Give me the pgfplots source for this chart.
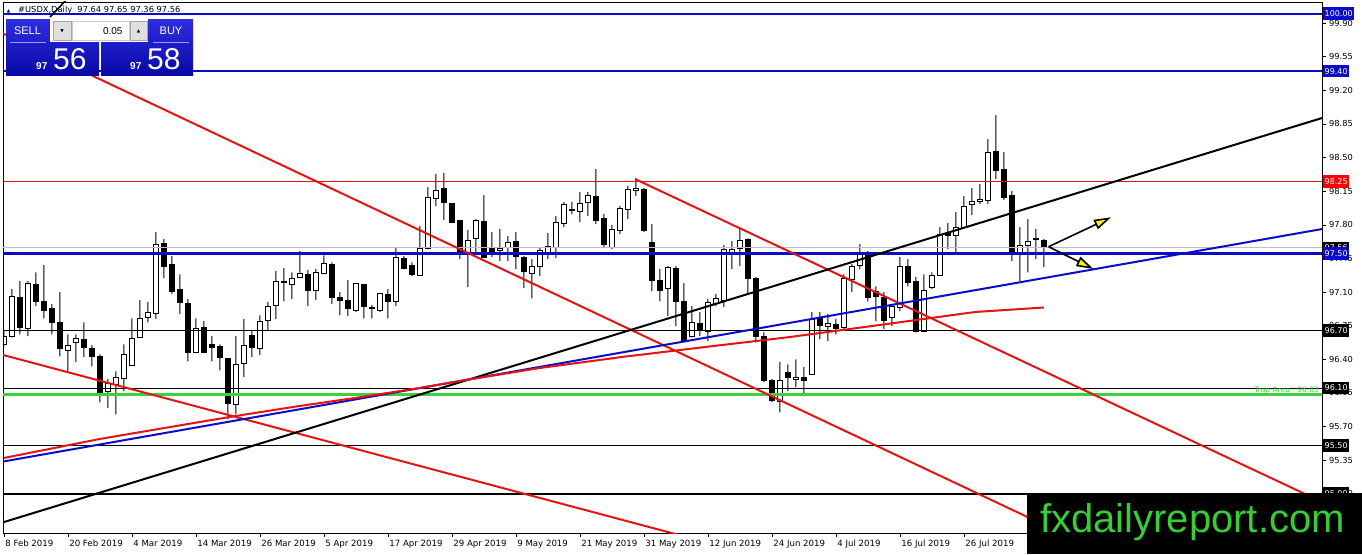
\documentclass[border=0pt]{standalone}
\usepackage{fontspec}
\setmainfont{DejaVu Sans}
\newfontfamily\wmfont{Liberation Sans}
\usepackage{pgfplots}
\pgfplotsset{compat=1.18}
\usepackage{pgfplotstable}
\usetikzlibrary{arrows.meta}

\definecolor{mtblue}{RGB}{12,12,200}
\definecolor{mtred}{RGB}{228,20,20}
\definecolor{mtgreen}{RGB}{60,210,60}
\definecolor{wmgreen}{RGB}{55,205,55}
\definecolor{panelhi}{RGB}{45,45,225}
\definecolor{panello}{RGB}{8,8,165}

% daily candles, USDX: index, open, high, low, close
\pgfplotstableread{
i o h l c
0 96.556 96.692 96.535 96.640
1 96.640 97.129 96.629 97.056
2 97.046 97.213 96.660 96.733
3 96.723 97.213 96.640 97.192
4 97.181 97.306 96.952 97.004
5 97.004 97.379 96.827 96.910
6 96.931 96.973 96.660 96.785
7 96.785 97.098 96.431 96.515
8 96.494 96.660 96.275 96.546
9 96.577 96.660 96.369 96.619
10 96.608 96.785 96.421 96.525
11 96.515 96.546 96.327 96.431
12 96.431 96.452 95.952 96.056
13 96.067 96.192 95.890 96.150
14 96.140 96.275 95.827 96.213
15 96.202 96.556 96.067 96.452
16 96.338 96.827 96.338 96.619
17 96.629 97.015 96.629 96.827
18 96.838 96.994 96.785 96.890
19 96.879 97.723 96.817 97.598
20 97.608 97.650 97.244 97.369
21 97.390 97.473 97.077 97.108
22 97.129 97.285 96.869 96.994
23 96.983 97.025 96.379 96.473
24 96.473 96.827 96.473 96.723
25 96.733 96.796 96.473 96.473
26 96.556 96.640 96.379 96.525
27 96.535 96.556 96.285 96.421
28 96.410 96.410 95.775 95.942
29 95.931 96.640 95.827 96.348
30 96.358 96.817 96.213 96.546
31 96.650 96.692 96.421 96.525
32 96.515 96.858 96.442 96.796
33 96.806 96.994 96.692 96.952
34 96.963 97.317 96.817 97.213
35 97.213 97.348 97.004 97.202
36 97.181 97.306 97.025 97.244
37 97.254 97.525 97.254 97.296
38 97.285 97.327 96.952 97.119
39 97.119 97.338 97.015 97.306
40 97.296 97.483 97.285 97.400
41 97.390 97.410 96.973 97.046
42 97.046 97.098 96.858 97.015
43 97.015 97.223 96.848 96.931
44 96.910 97.192 96.890 97.192
45 97.181 97.181 96.827 96.952
46 96.942 96.963 96.827 96.931
47 96.910 97.088 96.890 97.088
48 97.077 97.129 96.827 97.004
49 97.004 97.556 96.952 97.463
50 97.452 97.473 97.338 97.348
51 97.379 97.410 97.265 97.285
52 97.275 97.785 97.275 97.556
53 97.556 98.192 97.546 98.088
54 98.077 98.327 97.994 98.160
55 98.181 98.338 97.848 98.035
56 98.025 98.025 97.827 97.827
57 97.848 97.848 97.442 97.515
58 97.504 97.744 97.150 97.640
59 97.660 97.858 97.515 97.848
60 97.838 98.108 97.463 97.463
61 97.556 97.723 97.463 97.515
62 97.535 97.754 97.421 97.556
63 97.567 97.681 97.421 97.619
64 97.629 97.723 97.338 97.473
65 97.463 97.473 97.140 97.317
66 97.296 97.442 97.035 97.369
67 97.369 97.556 97.265 97.535
68 97.515 97.713 97.442 97.577
69 97.567 97.890 97.452 97.827
70 97.817 98.035 97.775 98.015
71 97.952 98.035 97.910 97.963
72 97.942 98.140 97.827 98.025
73 98.035 98.140 97.890 98.108
74 98.098 98.379 97.806 97.848
75 97.869 97.910 97.556 97.598
76 97.567 97.796 97.546 97.754
77 97.744 97.994 97.702 97.973
78 97.963 98.202 97.858 98.171
79 98.160 98.285 98.098 98.181
80 98.171 98.181 97.723 97.744
81 97.619 97.806 97.108 97.223
82 97.223 97.338 97.004 97.119
83 97.140 97.369 96.848 97.358
84 97.348 97.369 96.744 97.004
85 97.004 97.192 96.577 96.588
86 96.640 96.952 96.629 96.785
87 96.775 96.890 96.640 96.713
88 96.692 97.025 96.588 96.994
89 96.983 97.077 96.952 97.035
90 97.015 97.588 96.942 97.546
91 97.515 97.629 97.338 97.546
92 97.556 97.754 97.369 97.640
93 97.650 97.660 97.077 97.244
94 97.244 97.254 96.577 96.640
95 96.640 96.681 96.160 96.181
96 96.181 96.192 95.952 95.973
97 95.963 96.369 95.848 96.181
98 96.265 96.348 96.067 96.213
99 96.192 96.400 96.108 96.213
100 96.213 96.317 96.015 96.181
101 96.244 96.890 96.244 96.817
102 96.827 96.890 96.608 96.754
103 96.744 96.869 96.588 96.775
104 96.765 96.817 96.660 96.723
105 96.733 97.285 96.713 97.244
106 97.233 97.390 97.098 97.369
107 97.379 97.598 97.338 97.494
108 97.494 97.525 97.004 97.046
109 97.108 97.160 96.796 97.056
110 97.046 97.098 96.713 96.806
111 96.838 96.973 96.744 96.952
112 96.942 97.463 96.900 97.369
113 97.369 97.442 97.160 97.202
114 97.213 97.254 96.681 96.692
115 96.692 97.285 96.692 97.119
116 97.150 97.306 97.129 97.275
117 97.275 97.775 97.265 97.702
118 97.713 97.817 97.546 97.692
119 97.692 97.931 97.515 97.775
120 97.775 98.098 97.765 97.994
121 98.015 98.181 97.900 98.046
122 98.046 98.223 98.015 98.067
123 98.056 98.692 98.015 98.556
124 98.567 98.942 98.275 98.369
125 98.379 98.556 98.056 98.088
126 98.108 98.150 97.421 97.515
127 97.494 97.775 97.213 97.588
128 97.588 97.858 97.306 97.629
129 97.660 97.754 97.442 97.650
130 97.640 97.650 97.360 97.560
}\candles

\pgfplotsset{
  chartbase/.style={
    at={(3pt,21pt)}, anchor=south west,
    width=1319pt, height=531pt, scale only axis,
    xmin=-0.1, xmax=164.775, ymin=94.591, ymax=100.120,
    enlargelimits=false,
  },
  candlelayer/.style={chartbase, hide axis, ybar stacked},
}
\tikzset{
  pricebox/.style={anchor=west, text=white, inner xsep=1.5pt, inner ysep=0pt,
    minimum height=12.5pt, font=\fontsize{8}{9}\selectfont},
}

\begin{document}
\begin{tikzpicture}
\useasboundingbox (0,0) rectangle (1362pt,554pt);

% wicks
\begin{axis}[candlelayer, bar width=1pt]
\addplot[draw=none, fill=none] table[x=i, y=l] {\candles};
\addplot[draw=none, fill=black] table[x=i, y expr=\thisrow{h}-\thisrow{l}] {\candles};
\end{axis}

% bodies: white = up day, black = down day
\begin{axis}[candlelayer, bar width=4.4pt]
\addplot[draw=none, fill=none] table[x=i, y expr={min(\thisrow{o},\thisrow{c})}] {\candles};
\addplot[draw=black, fill=white, line width=0.9pt] table[x=i, y expr={max(\thisrow{c}-\thisrow{o},0)}] {\candles};
\addplot[draw=black, fill=black, line width=0.9pt] table[x=i, y expr={max(\thisrow{o}-\thisrow{c},0)}] {\candles};
\end{axis}

\node[anchor=west, inner sep=0pt, font=\fontsize{8.3}{9}\selectfont] at (18pt,544pt) {\#USDX,Daily\ \ 97.64 97.65 97.36 97.56};
\node[inner sep=0pt, font=\fontsize{4.5}{5}\selectfont] at (8.5pt,543pt) {▲};

% frame, scale and drawn objects
\begin{axis}[chartbase,
  axis line style={black, line width=0.8pt},
  tick style={black, line width=0.6pt},
  tick align=outside, major tick length=3.5pt,
  xtick pos=left, ytick pos=right, yticklabel pos=right,
  xtick={0,8,...,120},
  xticklabels={8 Feb 2019, 20 Feb 2019, 4 Mar 2019, 14 Mar 2019, 26 Mar 2019,
    5 Apr 2019, 17 Apr 2019, 29 Apr 2019, 9 May 2019, 21 May 2019, 31 May 2019,
    12 Jun 2019, 24 Jun 2019, 4 Jul 2019, 16 Jul 2019, 26 Jul 2019},
  ytick={95.00,95.35,95.70,96.05,96.40,96.75,97.10,97.45,97.80,98.15,98.50,98.85,99.20,99.55,99.90},
  /pgf/number format/assume math mode=true,
  y tick label style={/pgf/number format/fixed, /pgf/number format/fixed zerofill,
    /pgf/number format/precision=2, anchor=west, font=\fontsize{8.3}{9}\selectfont},
  x tick label style={anchor=north west, xshift=-2pt, font=\fontsize{8.6}{9}\selectfont},
]
% horizontal levels
\addplot[black!25, line width=0.8pt] coordinates {(-0.1,97.56) (164.775,97.56)};
\addplot[mtblue, line width=2pt] coordinates {(-0.1,100.00) (164.775,100.00)};
\addplot[mtblue, line width=2pt] coordinates {(-0.1,99.40) (164.775,99.40)};
\addplot[mtred, line width=1pt] coordinates {(-0.1,98.25) (164.775,98.25)};
\addplot[mtblue, line width=2.4pt] coordinates {(-0.1,97.50) (164.775,97.50)};
\addplot[black, line width=0.9pt] coordinates {(-0.1,96.70) (164.775,96.70)};
\addplot[black, line width=0.9pt] coordinates {(-0.1,96.10) (164.775,96.10)};
\addplot[mtgreen, line width=2.8pt] coordinates {(-0.1,96.03) (164.775,96.03)};
\addplot[black, line width=0.9pt] coordinates {(-0.1,95.50) (164.775,95.50)};
\addplot[black, line width=2pt] coordinates {(-0.1,95.00) (164.775,95.00)};
% trend lines
\addplot[mtred, line width=2pt] coordinates {(-0.1,99.792) (137.025,94.401)};
\addplot[mtred, line width=2pt] coordinates {(78.9,98.277) (164.775,94.914)};
\addplot[mtred, line width=2pt] coordinates {(-0.1,96.445) (87.025,94.512)};
\addplot[black, line width=2pt] coordinates {(-0.1,94.702) (164.775,98.912)};
\addplot[mtblue, line width=2pt] coordinates {(-0.1,95.335) (164.775,97.756)};
\addplot[black, line width=1.6pt] coordinates {(5.775,99.964) (7.9,100.15)};
% moving average
\addplot[mtred, line width=2pt] coordinates {(0,95.372) (12,95.570) (24.5,95.747) (29.8,95.820)
  (37,95.914) (43.9,95.997) (52,96.101) (57,96.174) (67,96.309) (77.3,96.424)
  (87.7,96.528) (98.3,96.632) (109.5,96.757) (121.4,96.892) (130,96.939)};
% arrows
\addplot[black, line width=1.6pt, -{Triangle[length=17pt, width=10pt, fill=yellow]}]
  coordinates {(130.6,97.572) (138.4,97.878)};
\addplot[black, line width=1.6pt, -{Triangle[length=17pt, width=10pt, fill=yellow]}]
  coordinates {(130.6,97.572) (136.19,97.340)};
\node[anchor=base east, text=mtgreen, inner sep=0pt, font=\fontsize{7.5}{8}\selectfont]
  at (axis cs:164.4,96.05) {Trap Area - 96.03};
\coordinate (b100) at (axis cs:164.775,100.00);
\coordinate (b994) at (axis cs:164.775,99.40);
\coordinate (b9825) at (axis cs:164.775,98.25);
\coordinate (b9756) at (axis cs:164.775,97.56);
\coordinate (b975) at (axis cs:164.775,97.50);
\coordinate (b967) at (axis cs:164.775,96.70);
\coordinate (b961) at (axis cs:164.775,96.10);
\coordinate (b955) at (axis cs:164.775,95.50);
\coordinate (b950) at (axis cs:164.775,95.00);
\end{axis}

% price labels on the scale
\node[pricebox, fill=mtblue] at ([xshift=1pt]b100) {100.00};
\node[pricebox, fill=mtblue] at ([xshift=1pt]b994) {99.40};
\node[pricebox, fill=red] at ([xshift=1pt]b9825) {98.25};
\node[pricebox, fill=black] at ([xshift=1pt]b9756) {97.56};
\node[pricebox, fill=mtblue] at ([xshift=1pt]b975) {97.50};
\node[pricebox, fill=black] at ([xshift=1pt]b967) {96.70};
\node[pricebox, fill=black] at ([xshift=1pt]b961) {96.10};
\node[pricebox, fill=black] at ([xshift=1pt]b955) {95.50};
\node[pricebox, fill=black] at ([xshift=1pt]b950) {95.00};

% one-click trading panel
\shade[top color=panelhi, bottom color=panello] (6pt,478pt) rectangle (99pt,534pt);
\shade[top color=panelhi, bottom color=panello] (101pt,478pt) rectangle (193pt,534pt);
\fill[white] (50pt,512pt) rectangle (148pt,535.5pt);
\fill[black!12] (53pt,514pt) rectangle (71pt,533pt);
\draw[black!35, line width=0.5pt] (53pt,514pt) rectangle (71pt,533pt);
\fill[black!12] (130pt,514pt) rectangle (147pt,533pt);
\draw[black!35, line width=0.5pt] (130pt,514pt) rectangle (147pt,533pt);
\draw[black!20, line width=0.5pt] (72pt,514pt) rectangle (129pt,533pt);
\draw[white!60!blue, line width=0.6pt] (10pt,512pt) -- (46pt,512pt);
\draw[white!60!blue, line width=0.6pt] (153pt,512pt) -- (189pt,512pt);
\node[text=white, font=\wmfont\fontsize{11}{12}\selectfont] at (27.5pt,523pt) {SELL};
\node[text=white, font=\wmfont\fontsize{11}{12}\selectfont] at (171pt,523pt) {BUY};
\node[anchor=east, font=\wmfont\fontsize{10}{11}\selectfont] at (126pt,523pt) {0.05};
\node[font=\fontsize{4.5}{5}\selectfont] at (62pt,523pt) {▼};
\node[font=\fontsize{4.5}{5}\selectfont] at (138.5pt,523pt) {▲};
\node[anchor=base west, inner sep=0pt, text=white, font=\wmfont\bfseries\fontsize{10}{11}\selectfont] at (36pt,484pt) {97};
\node[anchor=base west, inner sep=0pt, text=white, font=\wmfont\fontsize{30}{30}\selectfont] at (53pt,484pt) {56};
\node[anchor=base west, inner sep=0pt, text=white, font=\wmfont\bfseries\fontsize{10}{11}\selectfont] at (130pt,484pt) {97};
\node[anchor=base west, inner sep=0pt, text=white, font=\wmfont\fontsize{30}{30}\selectfont] at (147pt,484pt) {58};

% watermark
\fill[black] (1027pt,0pt) rectangle (1362pt,61pt);
\node[anchor=base, inner sep=0pt, text=wmgreen, font=\wmfont\fontsize{40}{40}\selectfont] at (1192.5pt,21pt) {fxdailyreport.com};
\end{tikzpicture}
\end{document}
